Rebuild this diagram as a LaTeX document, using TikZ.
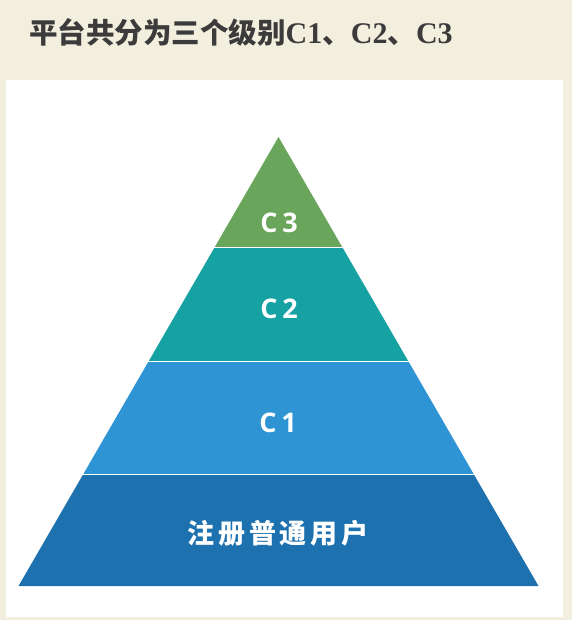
\documentclass[tikz,border=0pt]{standalone}
\usepackage{fontspec}
\newfontfamily\cjk{Noto Sans CJK SC}
\newfontfamily\cjklabel{Noto Sans CJK SC}[LetterSpace=14]
\newfontfamily\titlelatin{Liberation Serif}
\newfontfamily\labelfont{Open Sans}[LetterSpace=18]
\definecolor{paper}{HTML}{F3EFDF}
\definecolor{titlegray}{HTML}{3B3B3B}
\definecolor{cthree}{HTML}{6AA55C}
\definecolor{ctwo}{HTML}{16A2A3}
\definecolor{cone}{HTML}{2F94D4}
\definecolor{cbase}{HTML}{1D71AE}
\newcommand\latinpart[1]{{\titlelatin\fontsize{30}{30}\selectfont #1}}
\begin{document}
\begin{tikzpicture}[x=1pt, y=-1pt,
    lvl/.style={anchor=base, inner sep=0pt, text=white, font=\labelfont\bfseries\fontsize{27}{27}\selectfont}]
    \useasboundingbox (0,0) rectangle (572,620);
    \fill[paper] (0,0) rectangle (572,620);
    \fill[white] (6,80) rectangle (563,617);
    % title
    \node[anchor=base west, inner sep=0pt, text=titlegray] (title) at (29,44)
        {\fontsize{28.5}{30}\selectfont\cjk\bfseries 平台共分为三个级别\latinpart{C1}、\latinpart{C2}、\latinpart{C3}};
    % pyramid
    \coordinate (apex) at (278.5,137);
    \coordinate (bl) at (18.5,586);
    \coordinate (br) at (538.5,586);
    \foreach \ytop/\ybot/\col in {137/246/cthree, 248/360/ctwo, 362/473/cone, 475/586/cbase}{
        \begin{scope}
            \clip (0,\ytop) rectangle (572,\ybot);
            \fill[\col] (apex) -- (bl) -- (br) -- cycle;
        \end{scope}
    }
    \node[lvl] (c3) at (279,233) {C3};
    \node[lvl] (c2) at (279,318.5) {C2};
    \node[lvl] (c1) at (278,432) {C1};
    \node[lvl, font=\cjklabel\bfseries\fontsize{27}{27}\selectfont] (users) at (278,543) {注册普通用户};
\end{tikzpicture}
\end{document}
